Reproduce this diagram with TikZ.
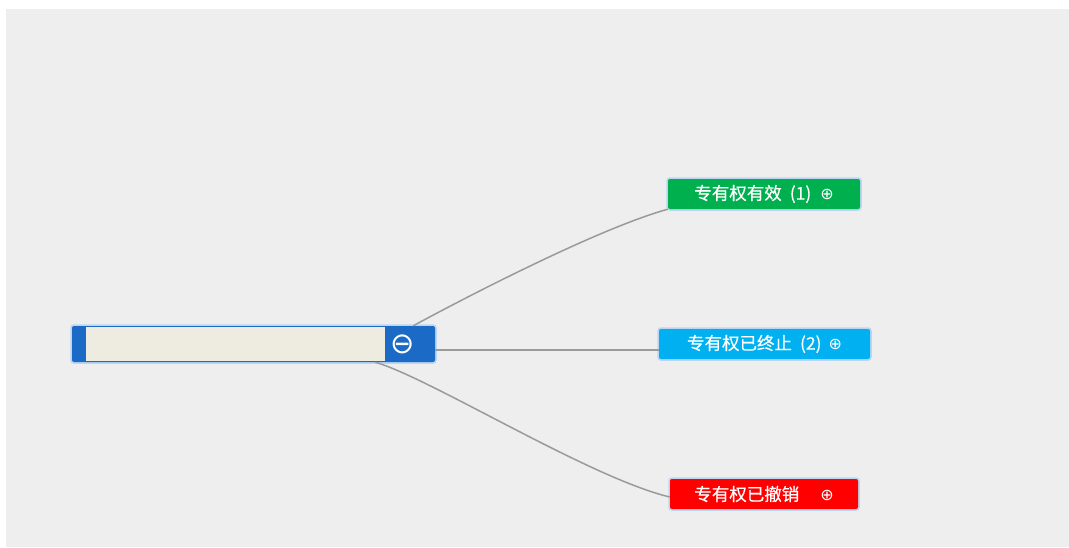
\documentclass[tikz,border=0pt]{standalone}
\usepackage{fontspec}
\setmainfont{Noto Sans CJK SC}[FakeBold=0.4]
\newfontfamily\symfont{DejaVu Sans}
\usetikzlibrary{positioning}
\definecolor{bggray}{HTML}{EEEEEE}
\definecolor{rootblue}{HTML}{1B6AC5}
\definecolor{fieldbeige}{HTML}{EEEBE0}
\definecolor{validgreen}{HTML}{00B04F}
\definecolor{endedcyan}{HTML}{00B0F0}
\definecolor{revokedred}{HTML}{FF0000}
\definecolor{halo}{HTML}{BCD6F2}
\definecolor{linkgray}{HTML}{9A9A9A}
\newcommand{\plusmark}{{\symfont\fontsize{16}{16}\selectfont ⊕}}

\begin{document}
\begin{tikzpicture}[
    x=1pt, y=-1pt,
    glow/.style={preaction={draw=halo, line width=3.5pt}},
    rootbox/.style={glow, fill=rootblue, rounded corners=2pt, inner sep=0pt,
        minimum width=363pt, minimum height=36pt},
    rootfield/.style={fill=fieldbeige, inner sep=0pt, minimum width=299pt, minimum height=33.5pt},
    toggle/.style={text=white, inner sep=0pt, font=\symfont\fontsize{29}{29}\selectfont},
    leaf/.style={glow, rounded corners=2pt, text=white, inner sep=0pt,
        minimum height=30pt, font=\fontsize{17.5}{19}\selectfont},
    link/.style={draw=linkgray, line width=1.5pt}
    ]
    \useasboundingbox (0,0) rectangle (1069,547);
    \fill[bggray] (6,9) rectangle (1069,547);

    \node[rootbox] (root) at (253.5,344) {};
    \node[rootfield, anchor=west] (rootname) at ([xshift=14pt]root.west) {};
    \node[toggle] (rootbtn) at ([xshift=-33pt]root.east) {⊖};

    \node[leaf, fill=validgreen, minimum width=192pt] (valid) at (764,194)
        {专有权有效\hspace{8pt}(1)\hspace{9pt}\plusmark};
    \node[leaf, fill=endedcyan, minimum width=211pt] (ended) at (764.5,344)
        {专有权已终止\hspace{8pt}(2)\hspace{7pt}\plusmark};
    \node[leaf, fill=revokedred, minimum width=188pt] (revoked) at (764,494)
        {专有权已撤销\hspace{21pt}\plusmark};

    % links from the root to each status
    \coordinate (topstart) at ([xshift=-22pt]root.north east);
    \coordinate (botstart) at ([xshift=-60pt]root.south east);
    \draw[link] (topstart) .. controls (470,295) and (600,228) .. (valid.south west);
    \draw[link] ([yshift=-6pt]root.east) -- ([yshift=-6pt]ended.west);
    \draw[link] (botstart) .. controls (430,378) and (590,478) .. ([yshift=-3pt]revoked.west);
\end{tikzpicture}
\end{document}
